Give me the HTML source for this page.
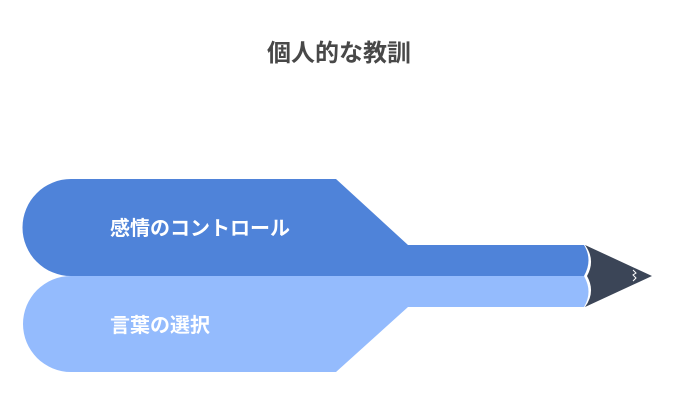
<!DOCTYPE html>
<html><head><meta charset="utf-8"><style>
body{margin:0;background:#fff;}
svg{display:block}
text{font-family:"Liberation Sans","Noto Sans CJK JP",sans-serif;font-weight:bold}
</style></head><body>
<svg width="678" height="420" viewBox="0 0 678 420" xmlns="http://www.w3.org/2000/svg">
<text x="339" y="61" text-anchor="middle" font-size="24" fill="#484848">個人的な教訓</text>
<path d="M585,245 Q596,260 587,276 Q596,292 585,307 L652,276 Z" fill="#3b4557"/>
<path d="M633,270 l3,3 l-3,2 l3,3 l-3,3" fill="none" stroke="#fff" stroke-width="1"/>
<path d="M71,276 A48.5,48.5 0 0 1 71,179 L336,179 L408,245 L584,245 Q593,260 584,276 Z" fill="#4f83d9"/>
<path d="M71,276 L584,276 Q593,292 584,307 L408,307 L336,372 L71,372 A48,48 0 0 1 71,276 Z" fill="#94bbfd"/>
<text x="110" y="235" font-size="20" fill="#fff">感情のコントロール</text>
<text x="110" y="332" font-size="20" fill="#fff">言葉の選択</text>
</svg>
</body></html>
